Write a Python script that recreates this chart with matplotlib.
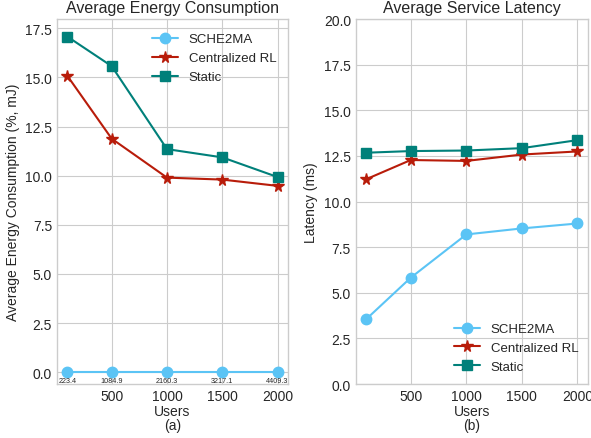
import matplotlib
matplotlib.use('Agg')
import matplotlib.pyplot as plt

plt.style.use('seaborn-v0_8-whitegrid')

users = [100, 500, 1000, 1500, 2000]
labels = ['SCHE2MA', 'Centralized RL', 'Static']

energy_sche2ma = [0, 0, 0, 0, 0]
energy_central = [15.07, 11.88, 9.9, 9.8, 9.48]
energy_static = [17.07, 15.57, 11.35, 10.93, 9.93]
energy_notes = ['223.4', '1084.9', '2160.3', '3217.1', '4409.3']

latency_sche2ma = [3.56, 5.83, 8.2, 8.53, 8.8]
latency_central = [11.23, 12.28, 12.23, 12.58, 12.75]
latency_static = [12.68, 12.77, 12.8, 12.93, 13.37]

colors = ['#5bc4f5', '#b81c0a', '#00807a']
markers = ['o', '*', 's']
msizes = [7.5, 8.5, 7]

fig = plt.figure(figsize=(5.91, 4.39), dpi=100)
ax1 = fig.add_axes([0.0964, 0.123, 0.391, 0.831])
ax2 = fig.add_axes([0.602, 0.123, 0.393, 0.831])

for ax, series in [(ax1, [energy_sche2ma, energy_central, energy_static]),
                   (ax2, [latency_sche2ma, latency_central, latency_static])]:
    for ys, lab, c, m, ms in zip(series, labels, colors, markers, msizes):
        ax.plot(users, ys, color=c, marker=m, markersize=ms,
                linewidth=1.5, label=lab)
    ax.tick_params(labelsize=10)

# small notes under the SCHE2MA points
for x, y, t in zip(users, energy_sche2ma, energy_notes):
    ax1.annotate(t, (x, y), xytext=(0, -6), textcoords='offset points',
                 ha='center', va='center', fontsize=5.2)

ax1.set_ylim(-0.6, 17.96)
ax1.set_yticks([0, 2.5, 5, 7.5, 10, 12.5, 15, 17.5])
ax1.set_title('Average Energy Consumption', fontsize=11.5, pad=5)
ax1.set_ylabel('Average Energy Consumption (%, mJ)', fontsize=10)
ax1.set_xlabel('Users\n(a)', fontsize=10, labelpad=1, linespacing=1.0)
ax1.legend(loc='upper right', fontsize=9.5, bbox_to_anchor=(1.0, 0.994))

ax2.set_ylim(0, 20)
ax2.set_title('Average Service Latency', fontsize=11.5, pad=5)
ax2.set_ylabel('Latency (ms)', fontsize=10)
ax2.set_xlabel('Users\n(b)', fontsize=10, labelpad=1, linespacing=1.0)
ax2.legend(loc='lower right', fontsize=9.5, bbox_to_anchor=(1.01, -0.002))

fig.savefig('out.png', dpi=100)
